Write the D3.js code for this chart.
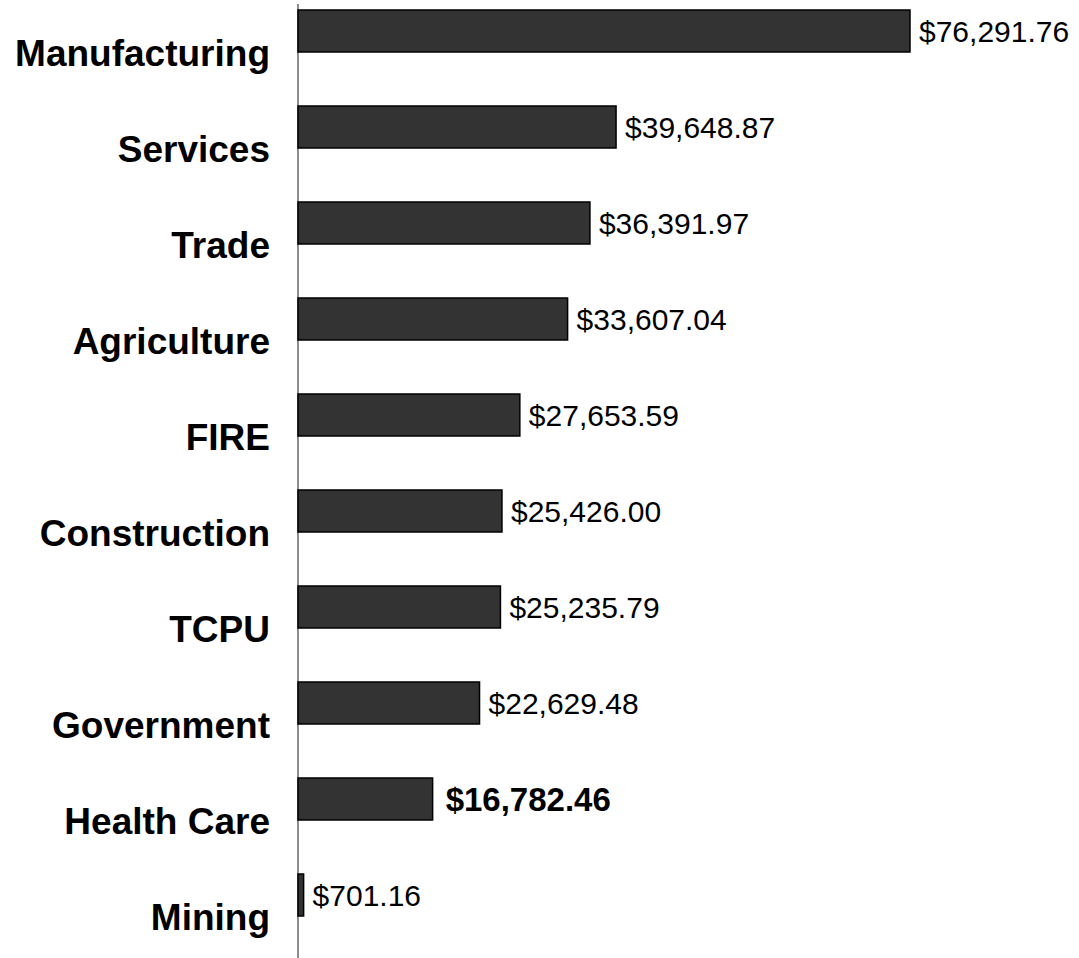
<!DOCTYPE html>
<html>
<head>
<meta charset="utf-8">
<script src="https://cdn.jsdelivr.net/npm/d3@7"></script>
<style>
  html, body { margin: 0; padding: 0; background: #fff; }
  svg { display: block; }
</style>
</head>
<body>
<svg id="chart" width="1079" height="958"></svg>
<script>
const categories = ["Manufacturing", "Services", "Trade", "Agriculture", "FIRE", "Construction", "TCPU", "Government", "Health Care", "Mining"];
const values = [76291.76, 39648.87, 36391.97, 33607.04, 27653.59, 25426.00, 25235.79, 22629.48, 16782.46, 701.16];
const valueLabels = ["$76,291.76", "$39,648.87", "$36,391.97", "$33,607.04", "$27,653.59", "$25,426.00", "$25,235.79", "$22,629.48", "$16,782.46", "$701.16"];
const highlighted = ["Health Care"];

const svg = d3.select("#chart");
const font = "'Liberation Sans', Arial, Helvetica, sans-serif";

const x = d3.scaleLinear().domain([0, d3.max(values)]).range([298, 910]);
const y = d3.scaleBand().domain(categories).range([10, 916]).paddingInner(0.5625).paddingOuter(0);

// axis line
svg.append("line")
  .attr("x1", 298).attr("x2", 298)
  .attr("y1", 4).attr("y2", 958)
  .attr("stroke", "#444").attr("stroke-width", 1.2);

const data = categories.map((c, i) => ({ c, v: values[i], label: valueLabels[i], hi: highlighted.includes(c) }));

svg.selectAll("rect.bar").data(data).enter().append("rect")
  .attr("class", "bar")
  .attr("x", x(0))
  .attr("y", d => y(d.c))
  .attr("width", d => x(d.v) - x(0))
  .attr("height", y.bandwidth())
  .attr("fill", "#333333")
  .attr("stroke", "#000")
  .attr("stroke-width", 1.5);

svg.selectAll("text.cat").data(data).enter().append("text")
  .attr("class", "cat")
  .attr("x", 270)
  .attr("y", d => y(d.c) + 56)
  .attr("text-anchor", "end")
  .attr("font-family", font)
  .attr("font-weight", "bold")
  .attr("font-size", 37)
  .attr("fill", "#000")
  .text(d => d.c);

svg.selectAll("text.val").data(data).enter().append("text")
  .attr("class", "val")
  .attr("x", d => x(d.v) + (d.hi ? 13 : 9))
  .attr("y", d => y(d.c) + y.bandwidth() / 2)
  .attr("dy", "0.35em")
  .attr("font-family", font)
  .attr("font-weight", d => d.hi ? "bold" : "normal")
  .attr("font-size", d => d.hi ? 33 : 30)
  .attr("fill", "#000")
  .text(d => d.label);
</script>
</body>
</html>
